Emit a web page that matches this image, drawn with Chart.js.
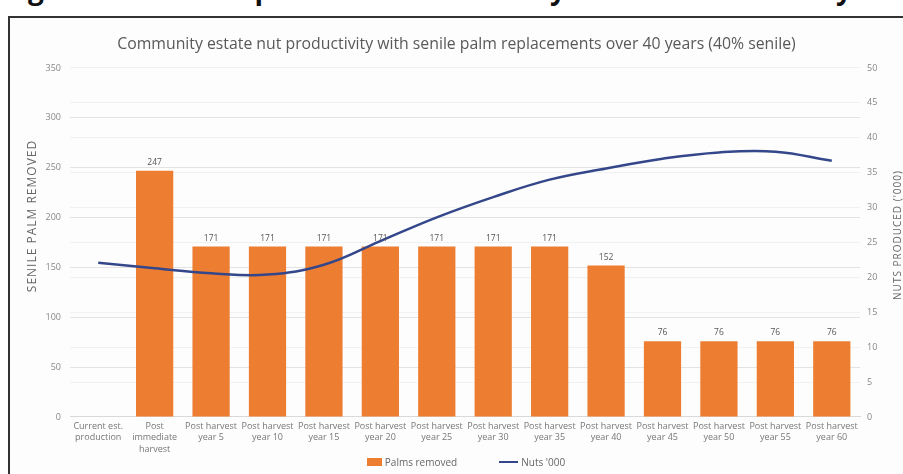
<!DOCTYPE html>
<html>
<head>
<meta charset="utf-8">
<script src="https://cdn.jsdelivr.net/npm/chart.js@4.4.1/dist/chart.umd.min.js"></script>
<style>
  html, body { margin: 0; padding: 0; width: 903px; height: 474px; overflow: hidden; background: #fff; }
  #heading { position: absolute; left: 4px; top: -31px; font: bold 28px "Open Sans", sans-serif; color: #111; white-space: nowrap; }
  #frame { position: absolute; left: 8px; top: 16px; width: 900px; height: 470px; border-left: 2px solid #333; border-top: 2px solid #333; background: #fdfdfd; }
  #chartBox { position: absolute; left: 10px; top: 18px; width: 893px; height: 438px; }
  #legend { position: absolute; left: 0; top: 455px; width: 932px; display: flex; justify-content: center; gap: 42px; font: 10px "Open Sans", sans-serif; color: #666; }
  #legend .item { display: flex; align-items: center; gap: 3px; }
  #legend .swatch { display: inline-block; }
</style>
</head>
<body>
<div id="heading">Figure 10: Nut output of estate over 40 years in a community estate</div>
<div id="frame"></div>
<div id="chartBox"><canvas id="nutChart"></canvas></div>
<div id="legend"></div>
<script>
const categories = [
  ["Current est.", "production"],
  ["Post", "immediate", "harvest"],
  ["Post harvest", "year 5"],
  ["Post harvest", "year 10"],
  ["Post harvest", "year 15"],
  ["Post harvest", "year 20"],
  ["Post harvest", "year 25"],
  ["Post harvest", "year 30"],
  ["Post harvest", "year 35"],
  ["Post harvest", "year 40"],
  ["Post harvest", "year 45"],
  ["Post harvest", "year 50"],
  ["Post harvest", "year 55"],
  ["Post harvest", "year 60"]
];
const palmsRemoved = [0, 247, 171, 171, 171, 171, 171, 171, 171, 152, 76, 76, 76, 76];
const nutsThousands = [22.1, 21.3, 20.6, 20.4, 21.8, 25.2, 28.6, 31.5, 34.0, 35.6, 37.0, 37.9, 38.0, 36.7];
const palmTicks = [0, 50, 100, 150, 200, 250, 300, 350];
const nutTicks = [0, 5, 10, 15, 20, 25, 30, 35, 40, 45, 50];

const FONT = '"Open Sans", sans-serif';
const BAR_COLOR = "#ED7D31";
const LINE_COLOR = "#34478a";

function rotatedText(ctx, text, x, y, size) {
  ctx.save();
  ctx.font = size + "px " + FONT;
  ctx.letterSpacing = "1px";
  ctx.fillStyle = "#666";
  ctx.textAlign = "center";
  ctx.textBaseline = "middle";
  ctx.translate(x, y);
  ctx.rotate(-Math.PI / 2);
  ctx.fillText(text, 0, 0);
  ctx.restore();
}

// value labels above each bar, plus the two rotated axis titles
const barLabels = {
  id: "barLabels",
  afterDatasetsDraw(chart) {
    const ctx = chart.ctx;
    const meta = chart.getDatasetMeta(0);
    ctx.save();
    ctx.font = "8.5px " + FONT;
    ctx.fillStyle = "#555";
    ctx.textAlign = "center";
    ctx.textBaseline = "bottom";
    meta.data.forEach((bar, i) => {
      const v = palmsRemoved[i];
      if (!v) return;
      ctx.fillText(String(v), bar.x, bar.y - 4);
    });
    ctx.restore();
  },
  afterDraw(chart) {
    rotatedText(chart.ctx, "SENILE PALM REMOVED", 23, 198, 12);
    rotatedText(chart.ctx, "NUTS PRODUCED ('000)", 888, 217, 10);
  }
};

const chart = new Chart(document.getElementById("nutChart"), {
  type: "bar",
  data: {
    labels: categories,
    datasets: [
      {
        label: "Palms removed",
        data: palmsRemoved,
        backgroundColor: BAR_COLOR,
        barPercentage: 0.66,
        categoryPercentage: 1,
        yAxisID: "y",
        order: 1
      },
      {
        type: "line",
        label: "Nuts '000",
        data: nutsThousands,
        borderColor: LINE_COLOR,
        backgroundColor: LINE_COLOR,
        borderWidth: 2.5,
        pointRadius: 0,
        tension: 0.4,
        yAxisID: "y1",
        order: 0
      }
    ]
  },
  options: {
    responsive: true,
    maintainAspectRatio: false,
    animation: false,
    layout: { padding: 0 },
    plugins: {
      title: {
        display: true,
        text: "Community estate nut productivity with senile palm replacements over 40 years (40% senile)",
        color: "#595959",
        font: { family: FONT, size: 15.8, weight: "normal" },
        padding: { top: 17, bottom: 14 }
      },
      legend: { display: false },
      tooltip: { enabled: false }
    },
    scales: {
      x: {
        grid: { display: false, drawTicks: false },
        border: { color: "#d9d9d9" },
        ticks: {
          color: "#777",
          font: { family: FONT, size: 9, lineHeight: 1.25 },
          maxRotation: 0,
          autoSkip: false,
          padding: 4
        },
        afterFit: (s) => { s.height = 39; }
      },
      y: {
        position: "left",
        min: 0,
        max: 350,
        afterBuildTicks: (s) => { s.ticks = palmTicks.map((v) => ({ value: v })); },
        grid: { color: "#e3e3e3", drawTicks: false },
        border: { display: false },
        ticks: { color: "#888", font: { family: FONT, size: 9 }, padding: 9 },
        afterFit: (s) => { s.width = 60; }
      },
      y1: {
        position: "right",
        min: 0,
        max: 50,
        afterBuildTicks: (s) => { s.ticks = nutTicks.map((v) => ({ value: v })); },
        grid: { color: "#f1f1f1", drawTicks: false },
        border: { display: false },
        ticks: { color: "#888", font: { family: FONT, size: 9 }, padding: 7 },
        afterFit: (s) => { s.width = 43; }
      }
    }
  },
  plugins: [barLabels]
});

// legend under the axis labels, one entry per dataset
const legend = document.getElementById("legend");
for (const ds of chart.data.datasets) {
  const item = document.createElement("span");
  item.className = "item";
  const sw = document.createElement("span");
  sw.className = "swatch";
  if (ds.type === "line") {
    sw.style.cssText = `width:19px;height:2.5px;background:${ds.borderColor}`;
  } else {
    sw.style.cssText = `width:15px;height:8px;background:${ds.backgroundColor}`;
  }
  item.appendChild(sw);
  item.appendChild(document.createTextNode(ds.label));
  legend.appendChild(item);
}
</script>
</body>
</html>
